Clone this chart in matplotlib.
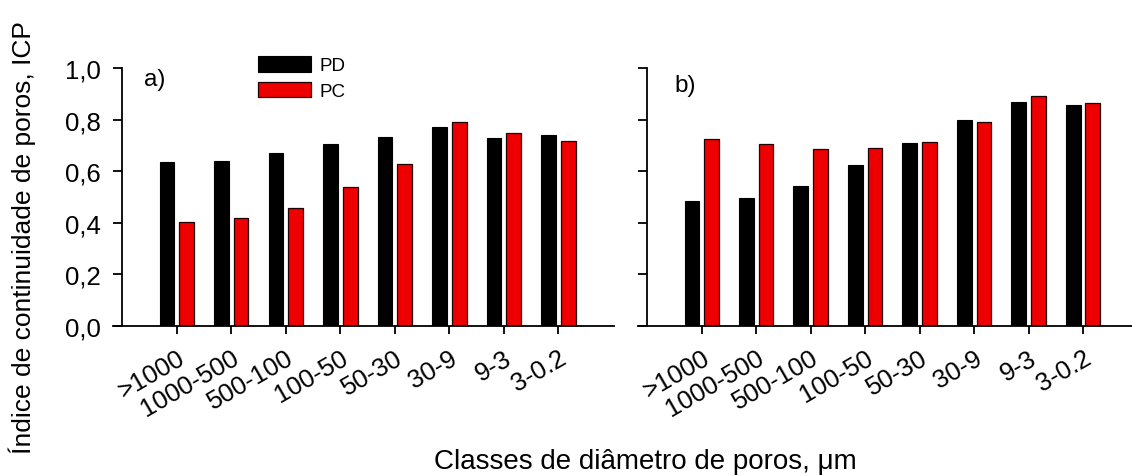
import matplotlib
matplotlib.use('Agg')
import matplotlib.pyplot as plt
import numpy as np

plt.rcParams['font.family'] = ['Liberation Sans', 'DejaVu Sans']

# dados
classes = ['>1000', '1000-500', '500-100', '100-50', '50-30', '30-9', '9-3', '3-0.2']
pd_a = [0.636, 0.641, 0.672, 0.707, 0.732, 0.771, 0.728, 0.739]
pc_a = [0.402, 0.419, 0.459, 0.539, 0.628, 0.789, 0.747, 0.716]
pd_b = [0.483, 0.496, 0.541, 0.625, 0.711, 0.798, 0.868, 0.855]
pc_b = [0.723, 0.705, 0.686, 0.688, 0.712, 0.792, 0.891, 0.866]
yticks = [0.0, 0.2, 0.4, 0.6, 0.8, 1.0]
ytick_labels = ['0,0', '0,2', '0,4', '0,6', '0,8', '1,0']

W, H = 1132, 477
fig = plt.figure(figsize=(W / 100, H / 100), dpi=100)

def px_axes(x0, x1, ytop, ybot):
    return fig.add_axes([x0 / W, (H - ybot) / H, (x1 - x0) / W, (ybot - ytop) / H])

ax1 = px_axes(113, 614, 69, 327)
ax2 = px_axes(638, 1132, 69, 327)

x = np.arange(len(classes))
bw = 0.27
off = 0.18

def draw(ax, pd_vals, pc_vals, xmax, show_labels):
    ax.bar(x - off, pd_vals, bw, color='black', edgecolor='black', linewidth=0.8, label='PD')
    ax.bar(x + off, pc_vals, bw, color='#EE0000', edgecolor='#200000', linewidth=0.9, label='PC')
    ax.set_xlim(-1.17, xmax)
    ax.set_ylim(0, 1.0)
    ax.spines['top'].set_visible(False)
    ax.spines['right'].set_visible(False)
    ax.spines['left'].set_position(('data', -1.0))
    ax.spines['left'].set_bounds(0, 1.0)
    for s in ['left', 'bottom']:
        ax.spines[s].set_linewidth(1.3)
    ax.set_xticks(x)
    ax.set_xticklabels(classes, rotation=30, ha='right', va='top',
                       rotation_mode='anchor', fontsize=18.5)
    ax.set_yticks(yticks)
    if show_labels:
        ax.set_yticklabels(ytick_labels, fontsize=18.5)
    else:
        ax.set_yticklabels([])
    ax.tick_params(axis='y', direction='out', length=6.5, width=1.3, pad=9)
    ax.tick_params(axis='x', direction='out', length=6, width=1.3, pad=8)

draw(ax1, pd_a, pc_a, 8.02, True)
draw(ax2, pd_b, pc_b, 7.9, False)

fig.text(144 / W, (H - 80) / H, 'a)', fontsize=17.5, va='center', ha='left')
fig.text(674 / W, (H - 86) / H, 'b)', fontsize=17.5, va='center', ha='left')

ax1.legend(loc='upper left', bbox_to_anchor=(257.7 / W, (H - 57) / H),
           bbox_transform=fig.transFigure, frameon=False, fontsize=13.5,
           borderpad=0, borderaxespad=0, handlelength=2.83, handleheight=0.9,
           handletextpad=0.45, labelspacing=0.4)

fig.text(22 / W, (H - 238) / H, 'Índice de continuidade de poros, ICP',
         rotation=90, fontsize=19, ha='center', va='center')
fig.text(645 / W, (H - 462) / H, 'Classes de diâmetro de poros, μm',
         fontsize=20, ha='center', va='center')

fig.savefig('out.png', dpi=100)
